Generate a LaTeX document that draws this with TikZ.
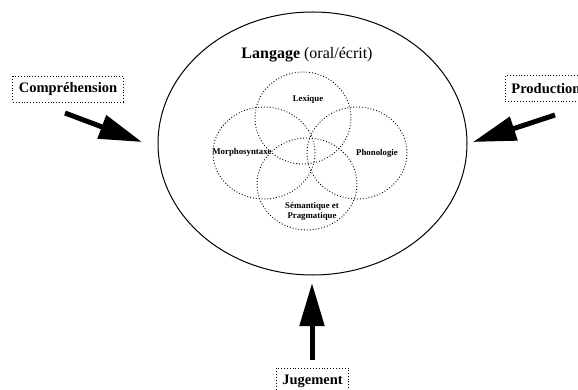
\documentclass[tikz,border=0pt]{standalone}
\usepackage{fontspec}
\setmainfont{Liberation Serif}
\usetikzlibrary{arrows.meta,shapes.geometric}
\begin{document}
\begin{tikzpicture}[x=1pt,y=-1pt,
  bigell/.style={draw,ellipse,line width=1pt,inner sep=0pt},
  zone/.style={draw,ellipse,dotted,line width=0.9pt,inner sep=0pt,minimum height=92pt},
  zlabel/.style={font=\bfseries\fontsize{8.8}{10}\selectfont,inner sep=0pt,align=center},
  dbox/.style={draw,dotted,line width=0.9pt,font=\bfseries\fontsize{14.5}{16}\selectfont,inner xsep=6pt,minimum height=26pt,inner ysep=0pt},
  bigarrow/.style={line width=5pt,-{Triangle[length=43pt,width=24pt]}}]
\useasboundingbox (0,0) rectangle (578,390);
\node[bigell,minimum width=309pt,minimum height=263pt] (lang) at (312.5,143.5) {};
\node[font=\fontsize{16}{18}\selectfont,inner sep=0pt] (title) at (307,55) {\textbf{Langage} (oral/écrit)};
\node[zone,minimum width=96pt] (lex) at (303,118) {};
\node[zone,minimum width=102pt] (mor) at (264,153) {};
\node[zone,minimum width=100pt] (pho) at (357,153) {};
\node[zone,minimum width=100pt] (sem) at (307,184) {};
\node[zlabel] (tlex) at (308,99) {Lexique};
\node[zlabel] (tmor) at (242,152) {Morphosyntaxe};
\node[zlabel] (tpho) at (377,153) {Phonologie};
\node[zlabel] (tsem) at (312,211) {Sémantique et\\Pragmatique};
\node[dbox] (comp) at (68,89) {Compréhension};
\node[dbox,anchor=west] (prod) at (505,88.5) {Production};
\node[dbox] (jug) at (312.5,381) {Jugement};
\coordinate (c1) at (65,113);
\coordinate (c2) at (142,142);
\coordinate (p1) at (555,115);
\coordinate (p2) at (473,142);
\coordinate (j1) at (312,360);
\coordinate (j2) at (312,283);
\draw[bigarrow] (c1) -- (c2);
\draw[bigarrow] (p1) -- (p2);
\draw[bigarrow] (j1) -- (j2);
\end{tikzpicture}
\end{document}
